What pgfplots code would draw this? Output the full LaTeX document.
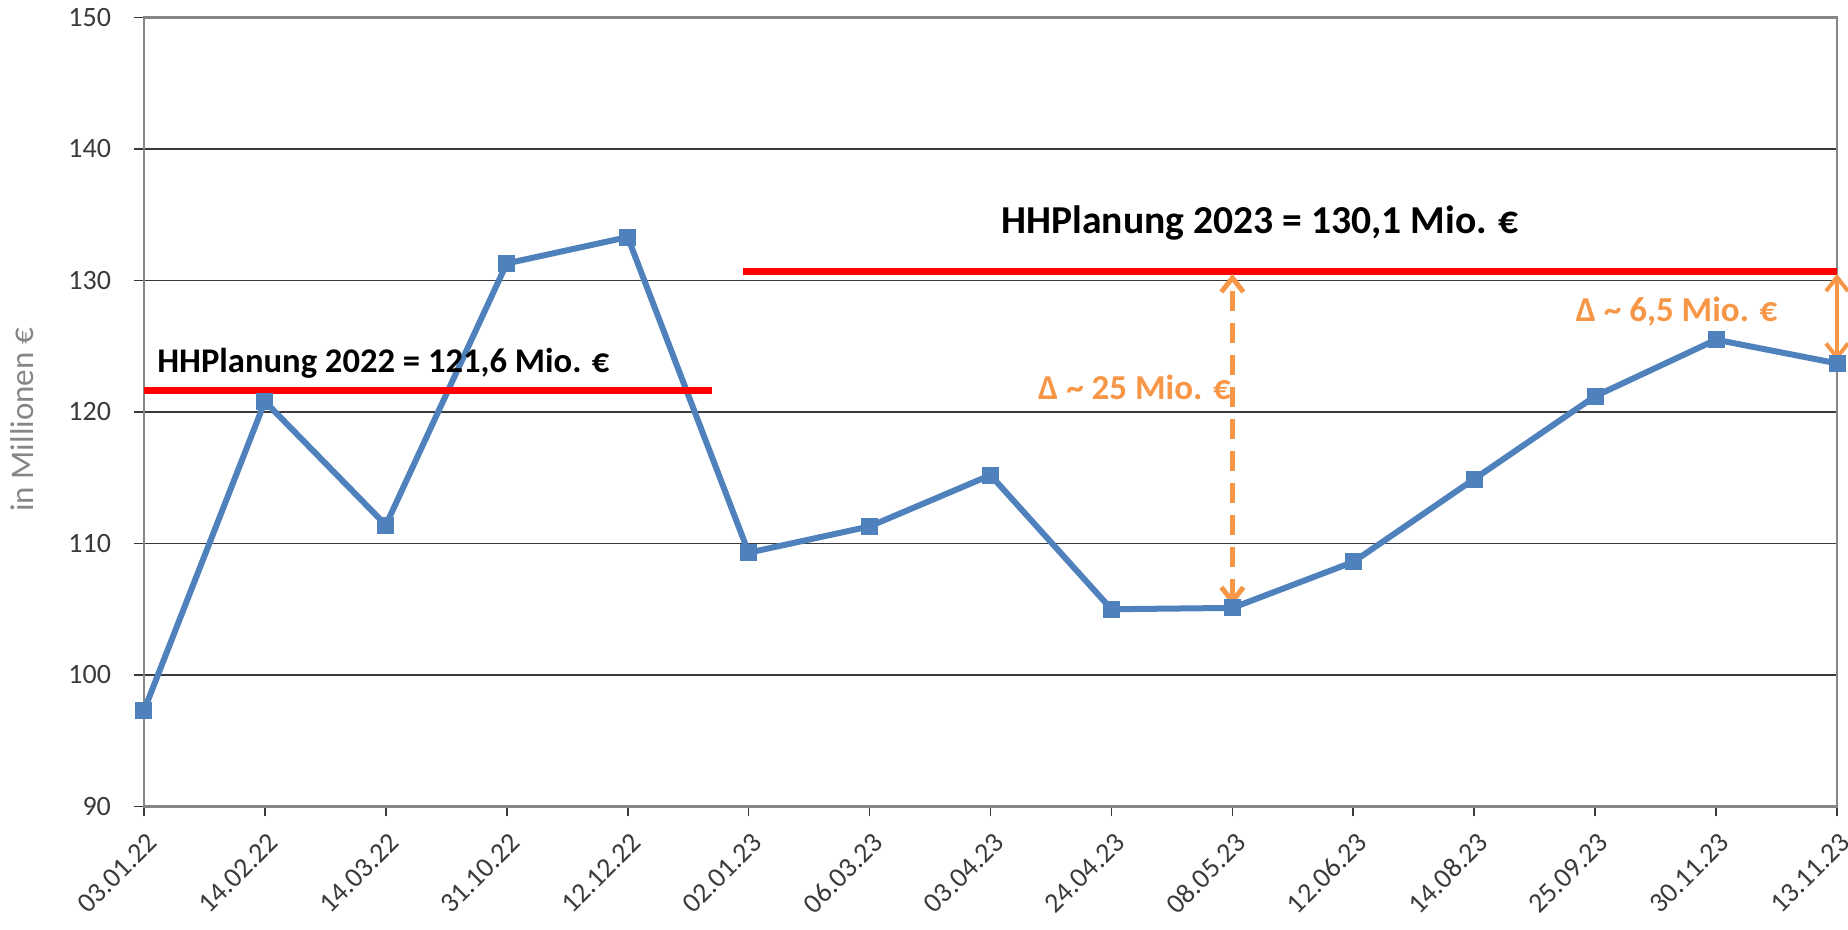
\documentclass[border=0pt]{standalone}
\usepackage{fontspec}
\setmainfont{Carlito}
\usepackage{pgfplots}
\pgfplotsset{compat=1.18}
\usetikzlibrary{arrows.meta}
\definecolor{xblue}{HTML}{4F81BD}
\definecolor{xorange}{HTML}{F79646}
\definecolor{xgrid}{HTML}{3A3A3A}
\definecolor{xaxis}{HTML}{868686}
\begin{document}
\begin{tikzpicture}
\path[use as bounding box] (-72pt,-61.7pt) rectangle (852pt,403.25pt);
\begin{axis}[
  at={(0,0)}, anchor=south west, scale only axis,
  width=846.5pt, height=394.5pt,
  xmin=0, xmax=14, ymin=90, ymax=150,
  xtick={0,...,14},
  xticklabels={03.01.22,14.02.22,14.03.22,31.10.22,12.12.22,02.01.23,06.03.23,03.04.23,24.04.23,08.05.23,12.06.23,14.08.23,25.09.23,30.11.23,13.11.23},
  ytick={90,100,...,150},
  ymajorgrids, major grid style={xgrid, line width=0.8pt},
  axis line style={xaxis, line width=1.2pt},
  tick align=outside, major tick length=5pt,
  tick pos=left,
  tick style={xgrid, line width=0.8pt},
  ticklabel style={font=\fontsize{14}{14}\selectfont, text=xgrid},
  xticklabel style={xshift=5pt, yshift=-10pt, rotate=45, anchor=east, inner sep=1pt},
  yticklabel style={xshift=-8pt},
  /pgf/number format/assume math mode=true,
  clip=false,
]
\addplot[xblue, line width=3pt, mark=square*, mark size=2.75pt] coordinates {
(0,97.3)(1,120.8)(2,111.4)(3,131.3)(4,133.3)(5,109.3)(6,111.3)(7,115.2)
(8,105.0)(9,105.1)(10,108.6)(11,114.9)(12,121.2)(13,125.5)(14,123.7)};
\addplot[red, line width=3.5pt] coordinates {(0,121.6)(4.7,121.6)};
\addplot[red, line width=3.5pt] coordinates {(4.95,130.7)(14,130.7)};
\addplot[xorange, line width=2.5pt, dash pattern=on 10pt off 6pt,
  {Straight Barb[length=7pt,width=11pt]}-{Straight Barb[length=7pt,width=11pt]}]
  coordinates {(9,105.3)(9,130.5)};
\addplot[xorange, line width=2pt,
  {Straight Barb[length=7pt,width=11pt]}-{Straight Barb[length=7pt,width=11pt]}]
  coordinates {(14,123.9)(14,130.5)};
\node[anchor=west, inner sep=0pt, font=\bfseries\fontsize{17.3}{17.3}\selectfont] at (axis cs:0.107,123.7) {HHPlanung 2022 = 121,6 Mio. €};
\node[anchor=center, inner sep=0pt, font=\bfseries\fontsize{19.8}{19.8}\selectfont] at (axis cs:9.23,134.4) {HHPlanung 2023 = 130,1 Mio. €};
\node[anchor=east, inner sep=0pt, text=xorange, font=\bfseries\fontsize{17.5}{17.5}\selectfont] at (axis cs:8.99,121.85) {Δ \char`\~{} 25 Mio. €};
\node[anchor=east, inner sep=0pt, text=xorange, font=\bfseries\fontsize{17.5}{17.5}\selectfont] at (axis cs:13.51,127.6) {Δ \char`\~{} 6,5 Mio. €};
\node[rotate=90, text=xaxis, font=\fontsize{16.5}{16.5}\selectfont] at (rel axis cs:-0.072,0.49) {in Millionen €};
\end{axis}
\end{tikzpicture}
\end{document}
